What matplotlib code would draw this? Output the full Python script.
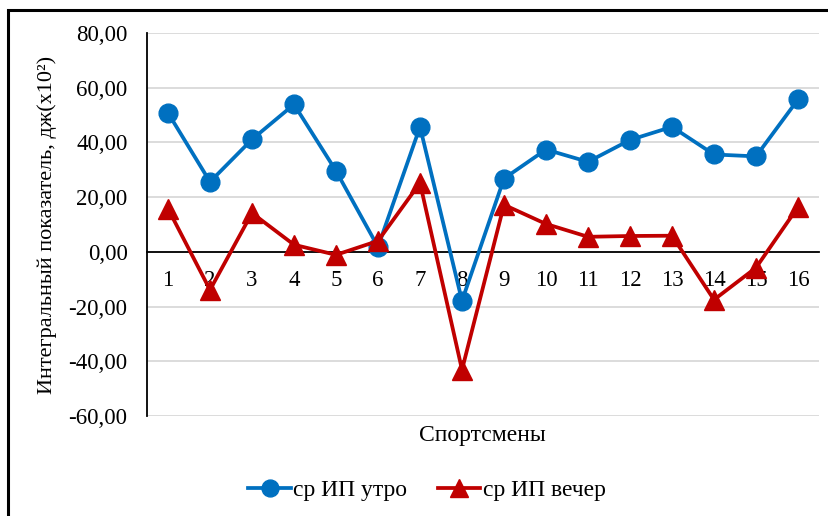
import matplotlib.pyplot as plt
from matplotlib.patches import Rectangle

plt.rcParams['font.family'] = ['Liberation Serif', 'DejaVu Serif']

athletes = list(range(1, 17))
ip_morning = [50.8, 25.6, 41.1, 53.9, 29.6, 1.8, 45.7, -17.9,
              26.8, 37.4, 32.9, 40.9, 45.7, 35.6, 34.9, 55.7]
ip_evening = [15.8, -13.9, 14.2, 2.6, -1.1, 4.0, 25.2, -43.1,
              17.2, 10.2, 5.5, 5.8, 5.9, -17.5, -5.8, 16.4]
y_ticks = [-60, -40, -20, 0, 20, 40, 60, 80]

fig = plt.figure(figsize=(8.29, 5.16), dpi=100)
ax = fig.add_axes([147/829, 1 - 416/516, 672/829, 383/516])

# frame of the chart area (cropped on right and bottom)
fig.patches.append(Rectangle((8/829, -0.1), 1.2, 1 - 10/516 + 0.1,
                             transform=fig.transFigure, fill=False,
                             edgecolor='black', linewidth=2.2))

ax.plot(athletes, ip_morning, color='#0070C0', lw=2.7, marker='o',
        markersize=13.5, label='ср ИП утро', zorder=3)
ax.plot(athletes, ip_evening, color='#C00000', lw=2.7, marker='^',
        markersize=14, label='ср ИП вечер', zorder=4)

ax.set_xlim(0.5, 16.5)
ax.set_ylim(-60, 80)
ax.set_yticks(y_ticks)
ax.set_yticklabels([f'{v:.2f}'.replace('.', ',') for v in y_ticks])
ax.set_xticks(athletes)
ax.set_xticklabels([str(a) for a in athletes])
ax.tick_params(axis='both', length=0, labelsize=16.5)
ax.tick_params(axis='x', pad=13)
ax.tick_params(axis='y', pad=14)

ax.grid(axis='y', color='#d9d9d9', lw=1.3, zorder=0)
ax.set_axisbelow(True)
for s in ['top', 'right']:
    ax.spines[s].set_visible(False)
ax.spines['bottom'].set_position(('data', 0))
ax.spines['bottom'].set_color('black')
ax.spines['bottom'].set_linewidth(1.3)
ax.spines['left'].set_linewidth(1.3)

ax.set_ylabel('Интегральный показатель, дж(x10²)', fontsize=16)
ax.yaxis.set_label_coords(-0.134, 0.5)
fig.text(482/829, 1 - 435/516, 'Спортсмены', ha='center', va='center', fontsize=17)

fig.legend(loc='center', bbox_to_anchor=(427/829, 1 - 490/516), ncol=2,
           frameon=False, fontsize=17, handlelength=1.8, columnspacing=1.3,
           handletextpad=0.1, markerscale=0.9)

fig.savefig('out.png', dpi=100)
